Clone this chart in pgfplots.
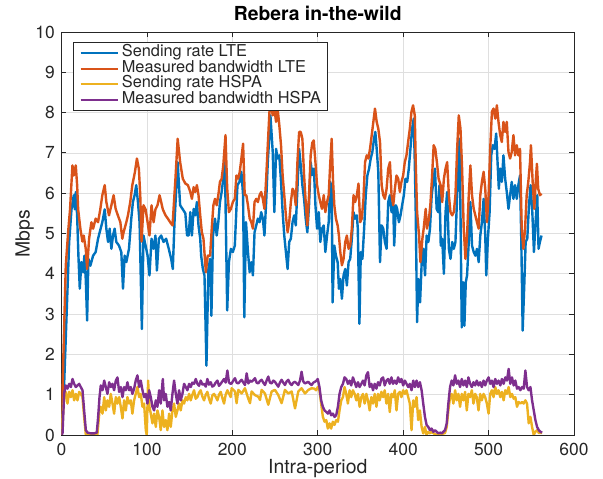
\documentclass[border=0pt]{standalone}
\usepackage{fontspec}
\setmainfont{TeX Gyre Heros}
\usepackage{pgfplots}
\pgfplotsset{compat=1.18}
\definecolor{mblue}{rgb}{0,0.447,0.741}
\definecolor{mred}{rgb}{0.85,0.325,0.098}
\definecolor{myellow}{rgb}{0.929,0.694,0.125}
\definecolor{mpurple}{rgb}{0.494,0.184,0.556}
\definecolor{axgray}{rgb}{0.15,0.15,0.15}
\definecolor{gridgray}{rgb}{0.875,0.875,0.875}
\begin{document}
\begin{tikzpicture}
\path[use as bounding box] (-61.5bp,-44bp) rectangle (541.5bp,435bp);
\begin{axis}[
  at={(0,0)}, anchor=south west,
  scale only axis, width=512.5bp, height=403bp,
  xmin=0, xmax=600, ymin=0, ymax=10,
  xtick={0,100,...,600}, ytick={0,1,...,10},
  tick align=inside, major tick length=5bp,
  grid=major, major grid style={draw=gridgray, line width=0.6bp},
  axis line style={draw=axgray, line width=0.8bp},
  every tick/.style={draw=axgray, line width=0.8bp},
  tick label style={font=\fontsize{17.5}{21}\selectfont, text=axgray},
  /pgf/number format/assume math mode=true,
  xticklabel style={inner sep=0pt, anchor=north, yshift=-8bp},
  yticklabel style={inner sep=0pt, anchor=east, xshift=-6.5bp},
  title={Rebera in-the-wild}, xlabel={Intra-period}, ylabel={Mbps},
  every axis title/.style={at={(axis description cs:0.5,1.0273)}, anchor=base, inner sep=0pt, font=\bfseries\fontsize{19.4}{23}\selectfont, text=black},
  every axis x label/.style={at={(axis description cs:0.5,-0.0596)}, anchor=north, inner sep=0pt, font=\fontsize{19.5}{23}\selectfont, text=axgray},
  every axis y label/.style={at={(axis description cs:-0.0537,0.5)}, rotate=90, anchor=south, inner sep=0pt, font=\fontsize{19.5}{23}\selectfont, text=axgray},
  legend cell align=left,
  legend image code/.code={\draw[#1, line width=2bp] (0bp,0bp) -- (37bp,0bp);},
  legend style={at={(axis description cs:0.0230,0.9744)}, anchor=north west,
    draw=axgray, line width=0.6bp, fill=white,
    font=\fontsize{16.4}{16.9}\selectfont, text=axgray,
    inner xsep=6bp, inner ysep=2.4bp, column sep=3.3bp, row sep=0pt,
    nodes={inner sep=0pt, text height=11.5bp, text depth=4.2bp}},
  every axis plot/.append style={line width=2.4bp, line join=round},
]
\addplot[mblue] coordinates {
(0,0)(3,1.2)(6,3.0)(9,4.8)(11.7,5.6)(14.4,5.95)(15.6,5.6)(16.7,6.03)(18.3,5.45)(19.8,4.45)
(21.4,3.63)(23.3,4.29)(25.3,4.04)(26.8,4.45)(28.4,3.87)(30,2.84)(31.5,4.37)(33.8,4.2)(37,4.45)(40,4.54)
(42.8,4.87)(44.7,5.03)(47.8,5.28)(50.6,5.6)(52.5,5.12)(54.5,4.79)(56.4,5.12)(58.4,4.62)(60.3,4.95)(62.2,5.12)
(64.2,4.79)(67.3,4.7)(70,4.54)(72,3.63)(73.9,4.45)(75.9,4.29)(79,4.62)(81.7,5.37)(83.6,5.78)(85.6,5.95)
(87.5,6.2)(89.5,5.78)(91.4,5.28)(94.1,2.63)(96,4.95)(98.4,4.7)(100.8,4.45)(103,3.96)(105.4,4.87)(107.8,4.62)
(110,4.95)(111.7,4.08)(114,4.87)(116.7,4.95)(119.4,4.79)(122.5,4.87)(125.6,4.62)(128.4,4.37)(130.3,4.12)(132.3,5.28)
(136,6.77)(138.9,5.7)(142,5.6)(145,5.5)(147,4.95)(148.9,4.95)(150.8,5.53)(152.7,4.95)(154.7,5.61)(156.6,5.45)
(158.5,5.78)(160.4,5.2)(162.4,4.87)(163.5,4.45)(165.5,4.12)(167.4,3.96)(169.7,1.72)(172,4.12)(174,4.37)(175.5,2.96)
(177.4,4.95)(179.7,5.37)(181.7,4.95)(183.6,5.28)(185.5,5.78)(187.5,6.03)(189.4,6.36)(191.3,6.77)(194,3.09)(196,4.29)
(198.3,4.62)(200.6,4.54)(202.9,4.7)(206,6.2)(208.3,6.28)(210.6,6.53)(212.6,5.95)(214,2.92)(216,5.28)(218.3,4.54)
(220.3,4.04)(222.2,4.29)(224.1,3.96)(226,5.03)(228,5.2)(229.9,5.37)(231.9,5.28)(233.8,5.53)(235.7,5.37)(237.6,4.95)
(239.6,5.78)(241.5,6.77)(243.4,7.44)(244.6,7.93)(247.3,7.02)(249.2,5.53)(251.2,7.1)(253,6.86)(255,6.94)(257,6.28)
(258.9,5.53)(260.8,4.95)(262.7,4.54)(264.7,4.12)(266.6,4.79)(268.5,4.87)(270.5,5.28)(272.4,5.45)(274.3,5.2)(276.2,6.11)
(278.2,7.1)(280.1,6.69)(282,6.2)(284,5.86)(285.9,5.37)(287.8,5.03)(289.8,5.7)(291.7,6.77)(293.6,6.45)(295.5,6.61)
(297.3,5.7)(299.2,5.12)(301.2,5.53)(303,4.79)(305,5.12)(307,5.2)(308.9,4.54)(310.9,4.95)(312.8,5.28)(314.7,6.28)
(316.3,6.11)(317.4,3.29)(319.4,4.7)(321.3,4.45)(323.3,4.29)(324.8,3.63)(326.4,3.87)(328.3,3.38)(330.2,3.96)(332.2,4.12)
(334.1,3.71)(336.1,4.29)(338,4.37)(339.9,4.87)(341.9,5.53)(343.8,5.37)(345.8,5.45)(346.9,5.12)(348.8,2.76)(350.4,4.54)
(352.3,4.37)(354.3,5.12)(356.2,5.95)(358.1,6.44)(360.1,6.61)(362,6.86)(363.9,7.02)(365.9,7.35)(367.4,7.52)(369,7.1)
(370.9,6.53)(372.9,4.29)(374.8,5.2)(376.7,5.12)(378.6,4.79)(380.6,4.62)(382.5,5.78)(384.5,5.95)(386.4,5.53)(388.4,5.7)
(389.5,4.7)(391.5,5.7)(393,5.61)(395,5.28)(396.9,5.45)(398.8,5.7)(400.8,5.95)(402.7,6.36)(404.7,6.28)(406.6,6.61)
(408.5,7.1)(410.5,7.6)(412.4,7.85)(413.6,6.77)(414.7,5.53)(416.3,2.8)(417.8,3.87)(419.8,3.29)(421.7,4.29)(423.6,4.62)
(425.6,3.96)(427.5,4.95)(429.5,4.79)(431.4,5.12)(433.4,5.95)(435.3,6.28)(437.2,6.61)(439.2,5.61)(441.1,5.53)(442.5,6.2)
(444,4.7)(445.7,4.87)(447.7,4.0)(449.6,5.53)(451.5,6.03)(453.5,4.62)(455.4,4.37)(457.4,4.79)(459.3,4.62)(461.2,4.79)
(463.2,5.95)(465.9,7.35)(467.1,5.53)(468.6,2.67)(470.2,3.79)(471.7,2.71)(473.3,3.79)(474.8,3.96)(476.8,4.79)(478.7,5.78)
(480.6,4.7)(482.6,4.54)(484.5,4.45)(486.4,4.62)(488.4,4.29)(490.3,4.95)(492.2,5.28)(494.2,5.86)(496.1,4.95)(497.3,3.96)
(499.2,4.87)(501.2,5.53)(503.1,6.94)(505,7.19)(507,7.1)(508.9,7.48)(510.5,6.77)(512,6.11)(513.6,6.61)(515.5,6.28)
(517.4,6.94)(519.4,6.36)(521.3,6.03)(523.3,5.61)(525.2,5.95)(527.1,6.28)(529.1,5.86)(531,6.2)(533,5.86)(534.9,6.2)
(536.8,6.44)(538.4,4.7)(539.9,2.59)(541.9,3.79)(543.4,4.79)(545.3,4.87)(547.3,5.7)(549.2,6.2)(551.2,5.53)(553.1,4.54)
(555,5.28)(557,5.95)(558.5,4.62)(560.1,4.79)(562,4.95)
};
\addlegendentry{Sending rate LTE}
\addplot[mred] coordinates {
(0,0)(2,1.8)(5,4.2)(8,5.1)(10,5.6)(12.8,6.69)(14.4,6.44)(16.7,6.69)(18.3,6.2)(19.5,5.6)
(22.2,5.1)(24.5,4.8)(26,4.95)(28.4,4.62)(30,4.12)(32.3,4.87)(35,5.28)(37,5.12)(40,5.37)(42.8,5.28)
(45.5,5.61)(47.8,5.95)(50.6,6.2)(52.5,5.78)(55.6,5.45)(58.4,5.7)(61,5.95)(63.4,5.61)(66,5.45)(68.9,5.28)
(71.2,4.87)(72.7,5.03)(75.9,5.28)(77.8,5.45)(80.5,5.78)(82.9,6.2)(84.4,6.36)(86,6.53)(88.3,6.86)(90.6,6.6)
(92.2,5.95)(93.7,4.8)(96,5.7)(98.4,5.6)(100.8,5.28)(103,4.95)(105.4,5.7)(107.8,5.28)(110,5.6)(112.4,5.7)
(114.8,5.95)(116.7,5.78)(118.6,5.6)(121.8,5.45)(124.5,5.37)(127.2,5.28)(130,5.2)(133.4,6.36)(136,7.35)(138.9,6.77)
(142,6.36)(145,6.24)(148,6.2)(150.8,6.03)(152.7,5.86)(154.7,6.15)(156.6,6.03)(158.5,6.2)(160.4,5.95)(162.4,5.45)
(164.3,5.03)(166.2,4.87)(169,4.04)(171.2,4.45)(174,4.45)(175.9,5.12)(177.8,5.7)(179.7,5.86)(181.7,5.7)(183.6,5.95)
(185.5,6.28)(187.5,6.36)(189.4,6.69)(192,7.44)(194,6.11)(196,5.53)(198.3,5.61)(200.6,5.78)(202.9,5.86)(204.8,6.44)
(206.8,6.36)(208.7,6.53)(210.6,6.86)(212.6,7.23)(214.5,5.95)(216.4,5.95)(218.3,5.7)(220.3,5.37)(222.2,5.28)(224.1,5.12)
(226,5.78)(228,5.86)(229.9,5.78)(231.9,5.95)(233.8,6.03)(235.7,5.86)(237.6,5.61)(239.6,6.36)(241.5,7.19)(243.4,8.0)
(244.6,8.3)(247.3,7.93)(249.2,8.1)(251.2,7.77)(253,8.1)(255,7.69)(257,7.19)(258.9,6.44)(260.8,5.95)(262.7,5.45)
(264.7,5.03)(266.6,5.28)(268.5,5.78)(270.5,6.11)(272.4,6.03)(274.3,5.7)(276.2,6.77)(278.2,7.52)(280.1,7.52)(282,7.35)
(284,6.44)(285.9,5.78)(287.8,5.2)(289.8,5.95)(291.7,6.94)(293.6,7.25)(295.3,7.31)(297.3,6.77)(299.2,6.2)(301.2,5.95)
(303,5.78)(305,5.61)(307,5.95)(308.9,5.53)(310.9,5.78)(312.8,5.95)(314.7,6.77)(316.3,7.35)(317.8,6.36)(319.4,5.7)
(321.3,5.37)(323.3,5.2)(324.8,4.95)(326.4,4.54)(328.3,4.21)(330.2,4.37)(332.2,4.79)(334.1,4.95)(336.1,4.62)(338,4.7)
(339.9,5.12)(341.9,5.95)(343.8,5.78)(345.8,5.95)(347.7,6.24)(349.6,5.28)(351.6,5.37)(353.5,5.86)(355.4,6.77)(357.4,6.94)
(359.3,6.86)(361.2,7.1)(363.2,7.44)(365.1,7.77)(367,8.1)(369,7.77)(370.9,7.6)(372.9,7.27)(374.8,6.2)(376.7,5.95)
(378.6,5.86)(380.6,6.11)(382.5,6.61)(384.5,6.77)(386.4,5.95)(388.4,5.7)(390.3,6.11)(392.2,6.44)(394.2,6.36)(396.1,6.03)
(398,6.28)(400,6.44)(401.9,6.77)(403.9,6.94)(405.8,7.27)(407.8,7.6)(409.7,8.02)(411.6,8.18)(413.6,7.93)(414.7,6.77)
(416.3,5.53)(418.6,4.95)(420.2,4.29)(422.5,4.87)(424,5.12)(426.4,5.61)(427.9,5.12)(430.2,5.37)(431.8,5.7)(433.7,6.36)
(435.7,7.19)(437.6,7.1)(439.5,6.77)(441.5,6.36)(443.8,6.2)(445.7,5.78)(447.7,6.36)(449.6,6.61)(451.5,6.77)(453.5,5.95)
(455.4,5.53)(457.4,5.45)(459.3,5.53)(461.2,5.95)(463.2,7.1)(465.1,7.93)(467.1,7.6)(469,6.61)(470.9,5.12)(472.9,4.37)
(474.8,4.95)(476.8,5.95)(478.7,6.69)(480.6,5.95)(482.6,5.61)(484.5,5.45)(486.4,5.28)(488.4,5.12)(490.3,5.95)(492.2,6.28)
(494.2,6.53)(496.1,6.11)(498.1,5.28)(500,5.95)(501.9,7.1)(503.9,8.02)(505.8,8.1)(507.8,7.85)(509.7,8.18)(511.6,7.77)
(513.6,7.44)(515.5,7.27)(517.4,7.77)(519.4,7.52)(521.3,7.77)(523.3,7.02)(525.2,6.86)(527.1,7.02)(529.1,7.44)(531,6.94)
(533,7.19)(534.9,6.94)(536.8,7.1)(538.8,5.12)(540.7,4.62)(542.7,5.12)(544.6,5.95)(546.5,6.28)(548.5,6.77)(549.6,7.19)
(551.6,6.28)(553.5,5.61)(555.4,6.36)(556.6,6.73)(558.1,6.11)(560.1,5.95)(562,5.99)
};
\addlegendentry{Measured bandwidth LTE}
\addplot[myellow] coordinates {
(0,0)(3.1,0.94)(5,1.07)(7,0.78)(9,1.07)(11,0.94)(12.9,1.11)(14.8,0.86)(16.8,1.02)(18.7,0.86)
(20.7,1.07)(22.6,1.02)(24.6,0.94)(26.5,0.45)(28.5,0)(42,0)(44.5,0.61)(46,0.7)(48,0.53)(50,0.94)
(51.9,0.61)(53.8,0.86)(55.8,0.7)(57.7,1.02)(59.7,0.78)(61.6,0.53)(63.6,0.94)(65.5,0.78)(67.5,0.94)(69.4,0.7)
(71.4,0.41)(73.3,0.86)(75.3,0.61)(77.2,0.94)(79.2,0.78)(81.1,0.86)(83,0.53)(85,0.86)(86.9,1.02)(88.9,1.19)
(90.9,0.94)(92.8,1.02)(94.8,0.7)(96.7,0.78)(98.7,0.12)(99.8,0)(101.4,1.35)(103,0.7)(104.5,0.53)(106.5,0.29)
(108.4,0.53)(110.4,0.2)(112.3,0.61)(114.3,0.45)(116.2,0.12)(118.2,0.61)(120.1,0.2)(122.1,0.37)(124,0.12)(126,0.53)
(127.9,0.2)(129.9,0.61)(131.8,0.78)(133.8,0.45)(135.7,0.61)(137.7,0.78)(139.6,0.61)(141.6,0.86)(143.5,0.78)(145.5,0.94)
(147.4,0.86)(149.4,1.02)(151.3,0.86)(153.2,1.0)(155.2,1.11)(157.1,0.9)(159.1,0.94)(161,1.05)(163,1.11)(165,0.95)
(166.9,0.86)(168.9,1.0)(170.8,1.07)(172.7,0.9)(174.7,0.78)(176.6,0.98)(178.6,1.02)(180.5,0.95)(182.5,0.86)(184.4,1.0)
(186.4,1.07)(188.3,0.92)(190.3,0.78)(192.2,1.0)(194.2,1.11)(196.1,1.03)(198.1,0.94)(199.2,1.16)(203.1,1.08)(205,0.79)
(207,1.12)(210.9,1.03)(214.8,1.16)(218.7,0.9)(220.7,0.79)(222.6,1.08)(226.5,0.99)(230.4,0.95)(232.4,0.87)(234.3,1.12)
(238.2,1.03)(242.1,0.75)(246,1.08)(249.9,1.12)(253.8,0.99)(257.7,0.79)(261.6,1.12)(265.5,1.03)(269.5,1.08)(273.4,0.66)
(277.2,1.08)(281.1,1.16)(285,1.03)(289,1.12)(292.8,1.16)(296,1.15)(298,1.11)(300,1.19)(302,1.11)(304,0.78)
(306,0.45)(308,0.33)(310,0.37)(311.8,0.16)(313.8,0.29)(315.7,0.16)(317.7,0.33)(319.6,0.25)(321.6,0.37)(323.6,0.33)
(325.5,0.61)(327.5,0.86)(329.5,0.94)(331.4,1.19)(333.4,1.02)(335.3,0.78)(337.3,1.11)(339.2,0.94)(341.2,1.11)(343.2,1.02)
(345.1,0.86)(347.1,1.02)(349,0.7)(351,0.94)(352.9,1.02)(354.9,0.78)(356.9,1.02)(358.8,0.86)(360.8,0.61)(362.8,0.94)
(364.7,0.78)(366.7,1.02)(368.7,0.7)(370.6,1.02)(372.6,0.86)(374.5,1.07)(376.5,0.94)(378.4,1.11)(380.4,0.78)(382.4,1.02)
(384.3,0.57)(386.3,1.02)(388.2,0.94)(390.2,1.11)(392.2,0.61)(394.1,1.02)(396.1,1.07)(398,0.94)(400,1.11)(402,1.02)
(403.9,1.11)(405.9,0.94)(407.8,0.78)(409.8,0.12)(411.8,0.86)(413.7,0.7)(415.7,0.94)(417.6,0.37)(419.6,0.61)(421.6,0.2)
(423.5,0.04)(425.5,0.2)(427.4,0)(429.4,0.08)(431.4,0.04)(433.3,0.08)(437,0.02)(441,0)(445,0.02)(449,0.05)
(451,0.2)(452.9,0.61)(454.9,0.94)(456.8,1.02)(458.8,0.78)(460.8,1.11)(462.7,0.86)(464.7,1.02)(466.6,0.7)(468.6,1.02)
(470.6,0.86)(472.5,1.07)(474.5,0.61)(476.4,1.02)(478.4,0.94)(480.4,1.11)(482.3,0.78)(484.3,1.02)(486.2,0.94)(488.2,0.61)
(490.2,1.02)(492.1,0.86)(494.1,1.02)(496,0.94)(498,0.78)(500,0.53)(501.9,1.02)(503.9,1.11)(505.8,0.94)(507.8,1.19)
(509.8,1.02)(511.7,1.11)(513.7,0.94)(515.6,1.07)(517.6,0.86)(519.6,1.11)(521.5,1.02)(523.5,1.19)(525.4,0.94)(527.4,1.02)
(529.4,0.9)(531.3,0.94)(533.3,0.7)(535.2,0.82)(537.2,0.78)(539.2,0.82)(541.1,0.78)(543.1,0.86)(545,0.78)(547,0.29)
(549,0.45)(550.9,0.2)(552.9,0)(554.8,0.08)(556.8,0.12)(558.8,0.05)(560.7,0.05)(562.7,0.05)
};
\addlegendentry{Sending rate HSPA}
\addplot[mpurple] coordinates {
(0,0)(1.2,0.04)(3.1,1.02)(5,1.23)(7,1.15)(9,1.27)(11,1.19)(12.9,1.39)(14.8,1.27)(16.8,1.19)
(18.7,1.23)(20.7,1.27)(22.6,1.19)(24.6,1.11)(26.5,0.61)(28.5,0.12)(30.4,0.06)(34.3,0.04)(38.2,0.04)(41.3,0.06)
(42.9,0.45)(44.5,0.94)(46,1.23)(48,1.11)(50,1.35)(51.9,1.19)(53.8,1.02)(55.8,1.31)(57.7,1.19)(59.7,1.27)
(61.6,1.11)(63.6,1.35)(65.5,1.43)(67.5,1.07)(69.4,1.19)(71.4,0.94)(73.3,1.19)(75.3,1.11)(77.2,1.31)(79.2,1.11)
(81.1,1.19)(83,1.02)(85,1.15)(86.9,1.35)(88.9,1.48)(90.9,1.19)(92.8,1.35)(94.8,1.11)(96.7,0.94)(98.7,1.02)
(100.6,0.78)(102.6,1.11)(104.5,0.94)(106.5,0.7)(108.4,0.61)(110.4,0.86)(112.3,0.7)(114.3,1.11)(116.2,0.78)(118.6,1.39)
(120.1,0.86)(122.1,1.02)(124,0.7)(126,0.82)(127.9,0.61)(129.9,1.02)(131.8,1.35)(133.8,1.02)(135.7,0.78)(137.7,1.11)
(139.6,0.86)(141.6,1.02)(143.5,1.27)(145.5,1.19)(147.4,1.11)(149.4,1.27)(151.3,1.19)(153.2,1.3)(155.2,1.27)(157.2,1.39)
(159.1,1.27)(161,1.22)(163,1.35)(165,1.25)(166.9,1.27)(168.9,1.2)(170.8,1.39)(172.7,1.25)(174.7,1.31)(176.6,1.2)
(178.6,1.23)(180.5,1.3)(182.5,1.35)(184.4,1.22)(186.4,1.27)(188.3,1.33)(190.3,1.39)(192.2,1.3)(194.2,1.6)(196.1,1.3)
(198.1,1.27)(199.2,1.28)(201.1,1.35)(203.1,1.41)(205,1.3)(207,1.28)(209,1.33)(210.9,1.37)(212.9,1.3)(214.8,1.24)
(216.8,1.53)(218.7,1.28)(220.7,1.35)(222.6,1.32)(224.5,1.36)(226.5,1.41)(228.4,1.3)(230.4,1.28)(232.3,1.34)(234.3,1.37)
(236.2,1.3)(238.2,1.24)(240.1,1.35)(242.1,1.45)(244,1.3)(246,1.28)(248,1.35)(249.9,1.32)(251.8,1.26)(253.8,1.2)
(255.7,1.3)(257.7,1.37)(259.6,1.3)(261.6,1.24)(263.5,1.33)(265.5,1.37)(267.5,1.28)(269.5,1.24)(271.4,1.3)(273.4,1.32)
(275.3,1.28)(277.2,1.24)(279.2,1.35)(281.1,1.57)(283,1.33)(285,1.28)(287,1.3)(289,1.32)(290.9,1.27)(292.8,1.24)
(294.8,1.3)(296.7,1.32)(298.5,1.35)(300,1.39)(302,1.19)(304,0.86)(306,0.7)(308,0.61)(310,0.57)(311.8,0.53)
(313.8,0.61)(315.7,0.49)(317.7,0.53)(319.6,0.45)(321.6,0.49)(323.6,0.7)(325.5,1.02)(327.5,1.19)(329.5,1.27)(331.4,1.43)
(333.4,1.39)(335.3,1.27)(337.3,1.35)(339.2,1.23)(341.2,1.43)(343.2,1.31)(345.1,1.19)(347.1,1.31)(349,1.19)(351,1.27)
(352.9,1.35)(354.9,1.23)(356.9,1.48)(358.8,1.56)(360.8,1.19)(362.8,1.27)(364.7,1.11)(366.7,1.27)(368.7,1.15)(370.6,1.31)
(372.6,1.23)(374.5,1.39)(376.5,1.43)(378.4,1.23)(380.4,1.35)(382.4,1.39)(384.3,1.27)(386.3,1.43)(388.2,1.27)(390.2,1.35)
(392.2,1.27)(394.1,1.43)(396.1,1.31)(398,1.39)(400,1.23)(402,1.35)(403.9,1.27)(405.9,1.19)(407.8,1.27)(409.8,1.11)
(411.8,1.35)(413.7,1.19)(415.7,1.35)(417.6,1.19)(419.6,1.31)(421.6,1.11)(423.5,0.78)(425.5,0.45)(427.4,0.25)(429.4,0.2)
(431.4,0.12)(433.3,0.16)(435.3,0.08)(437.2,0.12)(439.2,0.08)(441.2,0.04)(443.1,0.06)(445.1,0.04)(447,0.08)(449,0.12)
(451,0.29)(452.9,0.78)(454.9,1.19)(456.8,1.35)(458.8,1.23)(460.8,1.48)(462.7,1.27)(464.7,1.35)(466.6,1.19)(468.6,1.39)
(470.6,1.23)(472.5,1.35)(474.5,1.19)(476.4,1.43)(478.4,1.27)(480.4,1.19)(482.3,1.31)(484.3,1.23)(486.2,1.35)(488.2,1.23)
(490.2,1.31)(492.1,1.19)(494.1,1.35)(496,1.23)(498,1.35)(500,1.43)(501.9,1.27)(503.9,1.35)(505.8,1.19)(507.8,1.39)
(509.8,1.27)(511.7,1.35)(513.7,1.23)(515.6,1.39)(517.6,1.27)(519.6,1.43)(521.5,1.35)(523.5,1.64)(525.4,1.27)(527.4,1.43)
(529.4,1.23)(531.3,1.35)(533.3,1.15)(535.2,1.19)(537.2,1.11)(539.2,1.19)(541.1,1.15)(543.1,1.6)(545,1.19)(547,1.11)
(549,1.19)(550.9,0.86)(552.9,0.61)(554.8,0.37)(556.8,0.2)(558.8,0.12)(560.7,0.08)(562.7,0.06)
};
\addlegendentry{Measured bandwidth HSPA}
\end{axis}
\end{tikzpicture}
\end{document}
